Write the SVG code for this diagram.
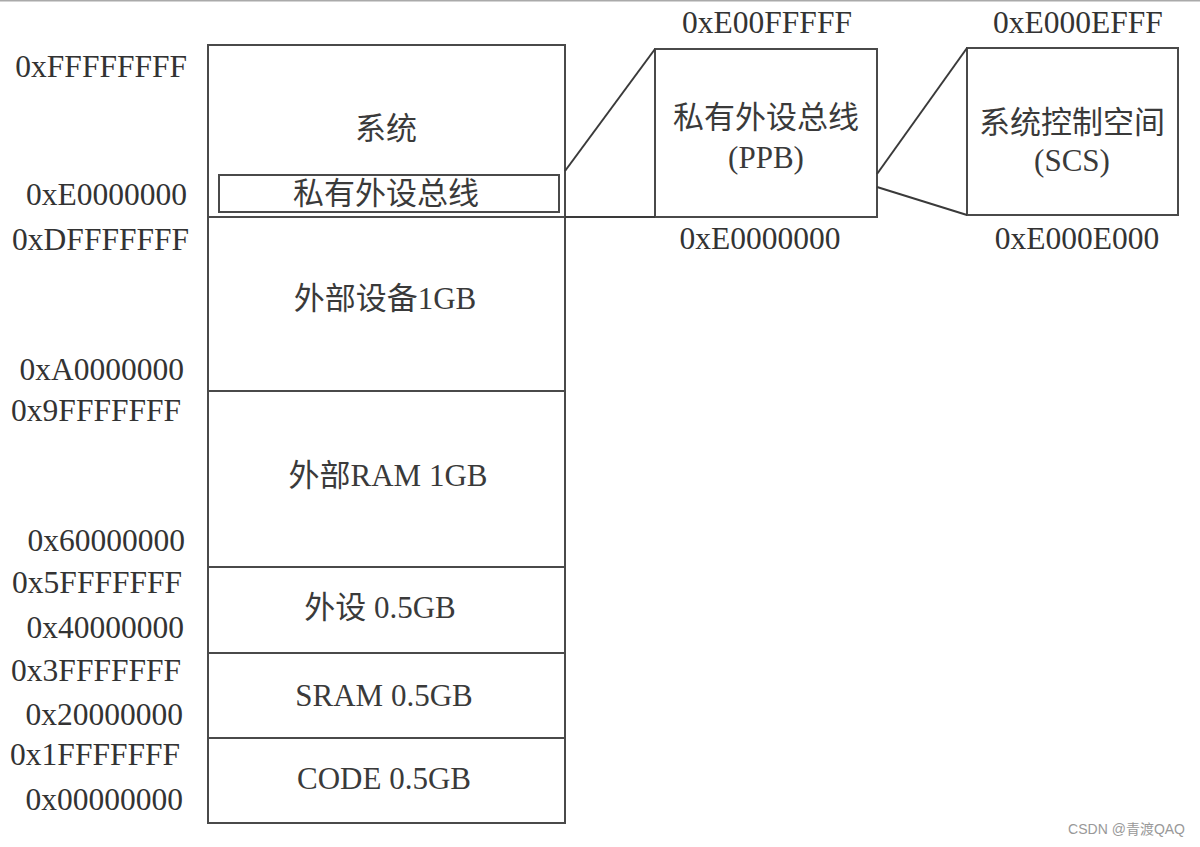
<svg xmlns="http://www.w3.org/2000/svg" width="1200" height="847" viewBox="0 0 1200 847">
<style>
.bx{fill:none;stroke:#4a4a4a;stroke-width:2}
.ln{fill:none;stroke:#3a3a3a;stroke-width:2}
.addr{font-family:"Liberation Serif","Noto Sans CJK SC",serif;font-size:31.5px;fill:#333}
.lbl{font-family:"Liberation Serif","Noto Sans CJK SC",serif;font-size:31px;fill:#3a3a3a;text-anchor:middle}
.r{text-anchor:end}
.m{text-anchor:middle}
</style>
<rect width="1200" height="847" fill="#fff"/>
<line x1="0" y1="0.5" x2="1200" y2="0.5" stroke="#aaa" stroke-width="2"/>

<g id="addresses">
<text class="addr r" x="187" y="77">0xFFFFFFFF</text>
<text class="addr r" x="187" y="205">0xE0000000</text>
<text class="addr r" x="189" y="250">0xDFFFFFFF</text>
<text class="addr r" x="184" y="380">0xA0000000</text>
<text class="addr r" x="181" y="421">0x9FFFFFFF</text>
<text class="addr r" x="185" y="551">0x60000000</text>
<text class="addr r" x="182" y="593">0x5FFFFFFF</text>
<text class="addr r" x="184" y="638">0x40000000</text>
<text class="addr r" x="181" y="681">0x3FFFFFFF</text>
<text class="addr r" x="183" y="725">0x20000000</text>
<text class="addr r" x="180" y="765">0x1FFFFFFF</text>
<text class="addr r" x="183" y="810">0x00000000</text>
</g>

<g id="system">
<rect class="bx" x="208" y="45" width="357" height="172"/>
<text class="lbl" x="386" y="139">系统</text>
</g>
<g id="ppb-region">
<rect class="bx" x="219" y="175" width="340" height="37"/>
<text class="lbl" x="386" y="204">私有外设总线</text>
</g>
<g id="ext-device">
<rect class="bx" x="208" y="217" width="357" height="174"/>
<text class="lbl" x="385" y="309">外部设备1GB</text>
</g>
<g id="ext-ram">
<rect class="bx" x="208" y="391" width="357" height="176"/>
<text class="lbl" x="388" y="486">外部RAM 1GB</text>
</g>
<g id="peripheral">
<rect class="bx" x="208" y="567" width="357" height="86"/>
<text class="lbl" x="380" y="618">外设 0.5GB</text>
</g>
<g id="sram">
<rect class="bx" x="208" y="653" width="357" height="85"/>
<text class="lbl" x="384" y="706">SRAM 0.5GB</text>
</g>
<g id="code">
<rect class="bx" x="208" y="738" width="357" height="85"/>
<text class="lbl" x="384" y="789">CODE 0.5GB</text>
</g>

<g id="ppb">
<rect class="bx" x="655" y="49" width="222" height="168"/>
<text class="lbl" x="766" y="128">私有外设总线</text>
<text class="lbl" x="766" y="168">(PPB)</text>
<text class="addr m" x="767" y="33">0xE00FFFFF</text>
<text class="addr m" x="760" y="249">0xE0000000</text>
</g>

<g id="scs">
<rect class="bx" x="967" y="48" width="211" height="167"/>
<text class="lbl" x="1072" y="133">系统控制空间</text>
<text class="lbl" x="1072" y="171">(SCS)</text>
<text class="addr m" x="1078" y="33">0xE000EFFF</text>
<text class="addr m" x="1077" y="249">0xE000E000</text>
</g>

<g id="connectors">
<line class="ln" x1="565" y1="171" x2="655" y2="49"/>
<line class="ln" x1="565" y1="217" x2="655" y2="217"/>
<line class="ln" x1="877" y1="174" x2="967" y2="48"/>
<line class="ln" x1="877" y1="187" x2="967" y2="215"/>
</g>

<text x="1185" y="834" text-anchor="end" font-family="'Liberation Sans','Noto Sans CJK SC',sans-serif" font-size="14" fill="#999">CSDN @青渡QAQ</text>
</svg>
